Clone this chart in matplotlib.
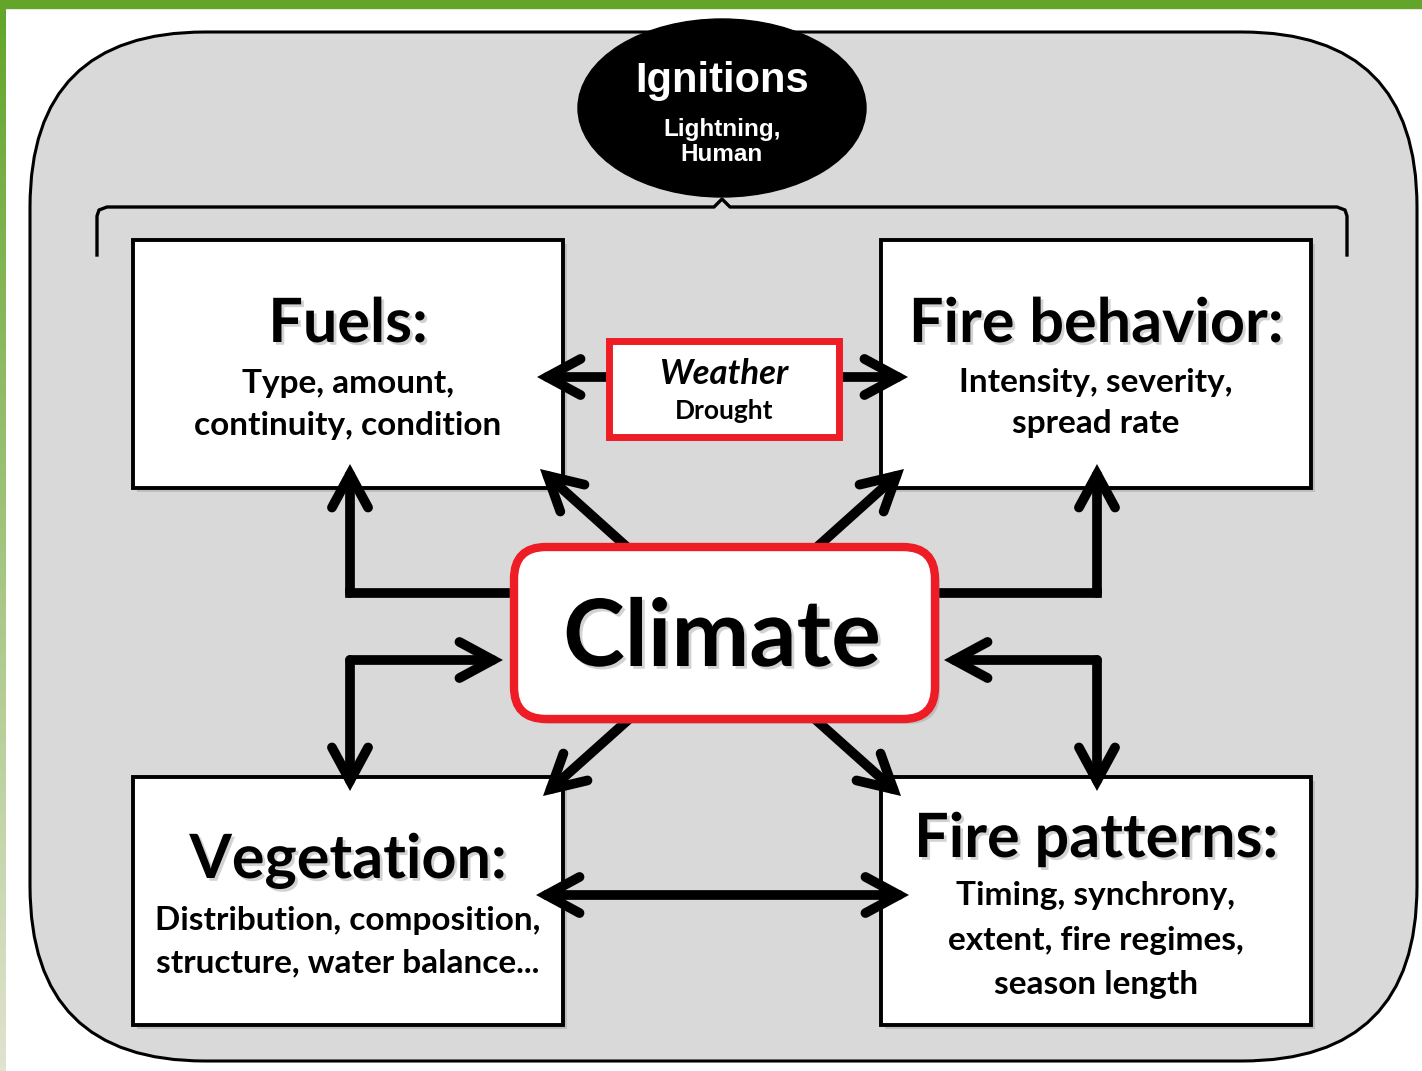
import numpy as np
import matplotlib
matplotlib.use("Agg")
import matplotlib.pyplot as plt
import matplotlib.patheffects as pe
from matplotlib.patches import FancyBboxPatch, Rectangle, Ellipse

# diagram text
titles = ["Fuels:", "Fire behavior:", "Vegetation:", "Fire patterns:"]
details = [
    ["Type, amount,", "continuity, condition"],
    ["Intensity, severity,", "spread rate"],
    ["Distribution, composition,", "structure, water balance..."],
    ["Timing, synchrony,", "extent, fire regimes,", "season length"],
]
centre_label = "Climate"
weather_label = ["Weather", "Drought"]
ignition_label = ["Ignitions", "Lightning,", "Human"]

W, H = 1422, 1071
FONT = "Lato"
RED = "#ee1c24"

fig = plt.figure(figsize=(W / 100, H / 100), dpi=100)
ax = fig.add_axes([0, 0, 1, 1])
ax.set_xlim(0, W)
ax.set_ylim(H, 0)
ax.axis("off")

# green frame (top bar + fading left bar)
top = np.array([0x62, 0xa5, 0x2a]) / 255
bot = np.array([0xe0, 0xe3, 0xcf]) / 255
t = np.linspace(0, 1, 200)[:, None]
grad = (top * (1 - t) + bot * t)[:, None, :]
ax.imshow(grad, extent=(0, 6, H, 0), aspect="auto", zorder=1)
ax.add_patch(Rectangle((0, 0), W, 8, color="#62a52a", zorder=1))

# outer rounded panel
ax.add_patch(FancyBboxPatch((30, 32), 1387, 1029,
                            boxstyle="round,pad=0,rounding_size=175",
                            fc="#d9d9d9", ec="black", lw=2.2, zorder=2))

# bracket under ignitions
bx = [97, 97, 99, 107, 714, 722, 730, 1337, 1345, 1347, 1347]
by = [255, 216, 210, 207, 207, 199, 207, 207, 210, 216, 255]
ax.plot(bx, by, color="black", lw=2.4, solid_joinstyle="round", zorder=3)

# ignitions ellipse
ax.add_patch(Ellipse((722, 108), 288, 178, fc="black", ec="black", zorder=4))
ax.text(722, 92, ignition_label[0], ha="center", va="baseline", color="white",
        fontsize=30, fontweight="bold", family="Liberation Sans", zorder=5)
ax.text(722, 136, ignition_label[1], ha="center", va="baseline", color="white",
        fontsize=17.5, fontweight="bold", family="Liberation Sans", zorder=5)
ax.text(722, 161, ignition_label[2], ha="center", va="baseline", color="white",
        fontsize=17.5, fontweight="bold", family="Liberation Sans", zorder=5)

shadow = [pe.withSimplePatchShadow(offset=(2, -2), shadow_rgbFace="gray", alpha=0.35)]

# four white boxes
boxes = [(133, 240), (881, 240), (133, 777), (881, 777)]
title_y = [342, 342, 878, 857]
detail_y = [[393, 435], [392, 433], [930, 972], [905, 950, 994]]
for (x0, y0), title, ty, lines, ly in zip(boxes, titles, title_y, details, detail_y):
    ax.add_patch(Rectangle((x0 + 4, y0 + 4), 430, 248, fc="gray", alpha=0.3, lw=0, zorder=3))
    ax.add_patch(Rectangle((x0, y0), 430, 248, fc="white", ec="black", lw=2.8, zorder=4))
    cx = x0 + 215
    ax.text(cx, ty, title, ha="center", va="baseline", fontsize=44,
            fontweight="bold", family=FONT, zorder=6, path_effects=shadow)
    for s, yy in zip(lines, ly):
        ax.text(cx, yy, s, ha="center", va="baseline", fontsize=24,
                fontweight="bold", family=FONT, zorder=6)


def arrow(p0, p1, both=False):
    style = "<->" if both else "->"
    ax.annotate("", xy=p1, xytext=p0, zorder=7,
                arrowprops=dict(arrowstyle=style + ",head_length=1.2,head_width=0.65",
                                mutation_scale=20, lw=7, color="black",
                                shrinkA=0, shrinkB=0,
                                capstyle="round", joinstyle="miter"))


def line(xs, ys):
    ax.plot(xs, ys, color="black", lw=7, solid_capstyle="projecting",
            solid_joinstyle="miter", zorder=7)


# weather -> fuels / fire behaviour
arrow((612, 377), (537, 377))
arrow((836, 377), (908, 377))

# climate -> fuels / fire behaviour (elbows)
line([505, 350], [593, 593])
arrow((350, 593), (350, 464))
line([940, 1097], [593, 593])
arrow((1097, 593), (1097, 464))

# climate <-> vegetation / fire patterns (elbows)
arrow((350, 660), (503, 660))
arrow((350, 660), (350, 791))
arrow((1097, 660), (944, 660))
arrow((1097, 660), (1097, 791))

# diagonals
arrow((628, 548), (540, 469))
arrow((816, 548), (904, 469))
arrow((628, 720), (543, 796))
arrow((816, 720), (901, 796))

# vegetation <-> fire patterns
arrow((536, 895), (909, 895), both=True)

# weather box
ax.add_patch(Rectangle((613, 345), 230, 96, fc="gray", alpha=0.3, lw=0, zorder=8))
ax.add_patch(Rectangle((609, 341), 230, 96, fc="white", ec=RED, lw=5, zorder=9))
ax.text(724, 384, weather_label[0], ha="center", va="baseline", fontsize=25,
        fontweight="bold", fontstyle="italic", family=FONT, zorder=10)
ax.text(724, 419, weather_label[1], ha="center", va="baseline", fontsize=19,
        fontweight="bold", family=FONT, zorder=10)

# climate box
ax.add_patch(FancyBboxPatch((519, 552), 421, 172, boxstyle="round,pad=0,rounding_size=32",
                            fc="gray", alpha=0.3, lw=0, zorder=8))
ax.add_patch(FancyBboxPatch((514, 547), 421, 172, boxstyle="round,pad=0,rounding_size=32",
                            fc="white", ec=RED, lw=6, zorder=9))
ax.text(722, 666, centre_label, ha="center", va="baseline", fontsize=67,
        fontweight="bold", family=FONT, zorder=10, path_effects=shadow)

fig.savefig("out.png", dpi=100)
